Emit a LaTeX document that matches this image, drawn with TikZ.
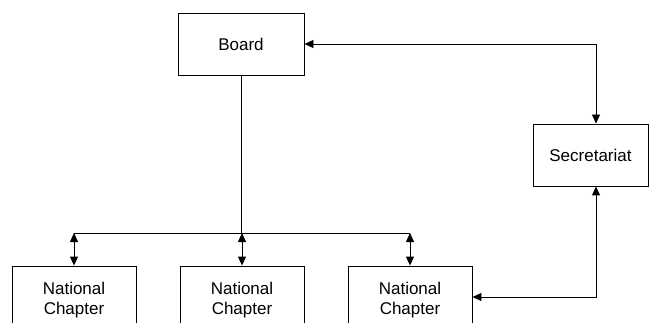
\documentclass[tikz,border=0pt]{standalone}
\usepackage{fontspec}
\setmainfont{Liberation Sans}
\usepackage{tikz}
\usetikzlibrary{arrows.meta, positioning, calc}
\tikzset{
    unit/.style={
        rectangle, draw, line width=0.9pt,
        minimum width=126pt, minimum height=62pt,
        align=center, inner sep=0pt,
        font=\fontsize{17}{20}\selectfont
    },
    chapter/.style={unit, minimum width=124pt, minimum height=68pt},
    link/.style={line width=0.9pt, {Triangle[length=9pt,width=8pt]}-{Triangle[length=9pt,width=8pt]}},
    wire/.style={line width=0.9pt}
}
\begin{document}
\begin{tikzpicture}[x=1pt, y=-1pt]
    \useasboundingbox (0,0) rectangle (650,323);
    % boxes
    \node [unit] (board) at (241,44) {Board};
    \node [unit, minimum width=115pt] (secretariat) at (590.5,155) {Secretariat};
    \node [chapter] (chapterA) at (74,300) {National\\Chapter};
    \node [chapter] (chapterB) at (242,300) {National\\Chapter};
    \node [chapter] (chapterC) at (410,300) {National\\Chapter};

    % bus and corners
    \coordinate (bus) at (241,233);
    \coordinate (topcorner) at (596,44);
    \coordinate (lowcorner) at (596,297);

    % board to chapters
    \draw [wire] (board.south) -- (bus);
    \draw [wire] (chapterA.north |- bus) -- (chapterC.north |- bus);
    \foreach \c in {chapterA, chapterB, chapterC}
        \draw [link] (\c.north |- bus) -- (\c.north);

    % secretariat links
    \draw [link] (board.east) -- (topcorner) -- (topcorner |- secretariat.north);
    \draw [link] (lowcorner |- secretariat.south) -- (lowcorner) -- (chapterC.east |- lowcorner);
\end{tikzpicture}
\end{document}
